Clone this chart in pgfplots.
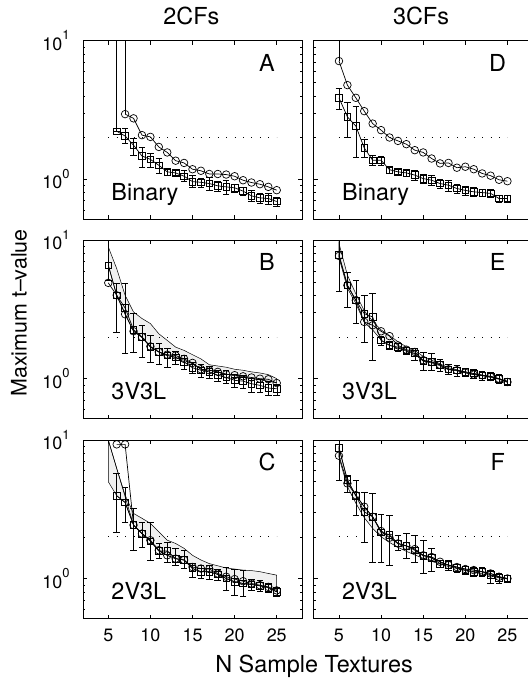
\documentclass[border=0pt]{standalone}
\usepackage{fontspec}
\setmainfont{TeX Gyre Heros}
\usepackage{pgfplots}
\pgfplotsset{compat=1.18}
\usepackage{pgfplotstable}

\pgfplotstableread{
n c s sp sm
6 nan 2.22 0 0
7 2.95 2.05 0.27 0.24
8 2.75 1.76 0.21 0.27
9 2.08 1.47 0.24 0.24
10 2.02 1.39 0.14 0.16
11 1.71 1.26 0.15 0.15
12 1.56 1.13 0.06 0.06
13 1.36 1.11 0.05 0.05
14 1.31 1.05 0.11 0.09
15 1.18 0.96 0.11 0.08
16 1.15 0.95 0.07 0.07
17 1.09 0.93 0.10 0.10
18 1.09 0.895 0.07 0.07
19 1.08 0.88 0.10 0.10
20 1.05 0.866 0.06 0.06
21 0.983 0.82 0.06 0.06
22 0.946 0.758 0.07 0.07
23 0.92 0.733 0.06 0.06
24 0.88 0.725 0.07 0.07
25 0.833 0.69 0.05 0.05
}\dataA

\pgfplotstableread{
n c s sp sm
5 7.13 3.87 0.65 0.68
6 4.78 2.82 0.80 0.80
7 3.87 2.42 0.95 0.97
8 3.10 1.68 0.25 0.23
9 2.52 1.37 0.12 0.11
10 2.26 1.37 0.10 0.10
11 2.00 1.17 0.06 0.06
12 1.89 1.13 0.05 0.05
13 1.79 1.11 0.06 0.06
14 1.62 1.07 0.10 0.08
15 1.56 1.01 0.07 0.07
16 1.41 0.983 0.08 0.08
17 1.30 0.93 0.07 0.07
18 1.31 0.905 0.08 0.08
19 1.21 0.856 0.07 0.07
20 1.23 0.83 0.06 0.06
21 1.18 0.81 0.06 0.06
22 1.10 0.80 0.05 0.05
23 1.06 0.79 0.05 0.05
24 0.99 0.725 0.04 0.04
25 0.967 0.725 0.04 0.04
}\dataD

\pgfplotstableread{
n c s sp sm
5 4.92 6.6 3.5 1.5
6 4.0 4.0 0.86 1.82
7 2.92 3.24 1.62 1.72
8 2.20 2.26 0.69 0.70
9 2.0 2.0 0.43 0.57
10 1.71 1.69 0.37 0.37
11 1.56 1.56 0.23 0.28
12 1.49 1.47 0.18 0.26
13 1.47 1.43 0.15 0.15
14 1.39 1.32 0.15 0.14
15 1.30 1.20 0.12 0.11
16 1.17 1.15 0.12 0.12
17 1.15 1.12 0.12 0.12
18 1.12 1.06 0.10 0.10
19 1.075 1.02 0.13 0.10
20 1.06 0.973 0.10 0.10
21 1.04 0.96 0.10 0.10
22 1.02 0.92 0.08 0.12
23 1.0 0.895 0.10 0.10
24 0.99 0.856 0.10 0.10
25 0.93 0.846 0.07 0.09
}\dataB

\pgfplotstableread{
n c s sp sm
6 9.3 3.96 1.78 1.81
7 9.3 3.54 1.06 0.97
8 2.43 2.43 0.78 0.83
9 2.11 2.11 0.46 0.42
10 1.89 1.86 0.71 0.50
11 1.60 1.58 0.21 0.19
12 1.47 1.58 0.26 0.26
13 1.39 1.39 0.26 0.14
14 1.36 1.36 0.24 0.18
15 1.21 1.18 0.10 0.15
16 1.18 1.12 0.12 0.12
17 1.17 1.12 0.13 0.13
18 1.087 1.07 0.10 0.10
19 1.03 1.0 0.21 0.18
20 0.99 0.946 0.23 0.19
21 0.956 0.92 0.23 0.18
22 0.92 0.905 0.08 0.08
23 0.895 0.885 0.08 0.08
24 0.87 0.86 0.07 0.07
25 0.82 0.80 0.06 0.06
}\dataC

\pgfplotstableread{
n c s sp sm
5 7.7 7.87 2.2 3.6
6 4.73 4.73 1.17 1.43
7 3.68 3.68 1.46 1.18
8 2.57 2.95 1.05 1.11
9 2.43 2.79 1.32 1.42
10 2.20 1.89 0.15 0.15
11 2.03 1.74 0.12 0.12
12 1.74 1.69 0.10 0.10
13 1.62 1.60 0.10 0.10
14 1.56 1.52 0.13 0.16
15 1.36 1.34 0.22 0.19
16 1.32 1.32 0.20 0.17
17 1.26 1.26 0.12 0.12
18 1.17 1.17 0.10 0.10
19 1.15 1.15 0.10 0.10
20 1.105 1.12 0.08 0.08
21 1.07 1.09 0.08 0.08
22 1.06 1.06 0.08 0.08
23 1.03 1.04 0.07 0.07
24 1.0 1.0 0.07 0.07
25 0.946 0.956 0.06 0.06
}\dataE

\pgfplotstableread{
n c s sp sm
5 7.7 8.8 1.2 3.66
6 4.86 5.14 0.44 0.91
7 4.0 3.96 1.18 1.09
8 3.30 3.03 1.2 1.19
9 2.79 2.79 1.33 1.47
10 2.20 2.15 0.75 0.83
11 1.97 2.06 0.81 0.81
12 1.79 1.79 0.27 0.19
13 1.72 1.72 0.39 0.33
14 1.63 1.60 0.46 0.28
15 1.47 1.46 0.43 0.37
16 1.43 1.41 0.24 0.29
17 1.32 1.28 0.08 0.08
18 1.25 1.25 0.10 0.10
19 1.21 1.19 0.08 0.08
20 1.17 1.15 0.08 0.08
21 1.15 1.12 0.08 0.08
22 1.12 1.12 0.08 0.08
23 1.087 1.06 0.09 0.14
24 1.03 1.01 0.08 0.08
25 1.0 1.0 0.06 0.06
}\dataF

\newcommand{\tickfont}{\fontsize{18}{18}\selectfont}
\newcommand{\bigfont}{\fontsize{23.5}{23.5}\selectfont}
\newcommand{\tsup}[1]{\raisebox{10.5bp}{\fontsize{13}{13}\selectfont #1}}

\pgfplotsset{
 every axis/.append style={
  scale only axis, width=219bp, height=178.5bp,
  xmin=2, xmax=28, ymin=0.514, ymax=10,
  xtick={5,10,15,20,25}, ytick={1,10},
  minor ytick={0.6,0.7,0.8,0.9,2,3,4,5,6,7,8,9},
  tick align=inside, major tick length=4bp, minor tick length=2.5bp,
  axis line style={line width=0.8bp},
  tick style={black, line width=0.6bp},
  anchor=north west,
 },
}

\newcommand{\pletter}[1]{\node[font=\bigfont] at (rel axis cs:0.84,0.877) {#1};}
\newcommand{\plabel}[1]{\node[font=\bigfont, anchor=base west] at (rel axis cs:0.114,0.106) {#1};}

\begin{document}
\begin{tikzpicture}
\useasboundingbox (0,0) rectangle (528bp,-679bp);
\clip (0,0) rectangle (528bp,-679bp);

% Panel A
\begin{semilogyaxis}[at={(83bp,-40.7bp)}, xticklabels={}, yticklabels={10\tsup{0},10\tsup{1}}, yticklabel style={font=\tickfont, xshift=-10bp}]
\addplot[black, line width=0.9bp, dash pattern=on 0.9bp off 7.523bp] coordinates {(5,2) (25,2)};
\addplot[black, line width=0.7bp] coordinates {(6,2.22) (6,30)};
\addplot[black, line width=0.7bp] coordinates {(7,2.95) (7,30)};
\addplot[black, line width=0.7bp, mark=square, mark size=3.3bp, error bars/y dir=both, error bars/y explicit] table[x=n, y=s, y error plus=sp, y error minus=sm] {\dataA};
\addplot[black, line width=0.7bp, mark=o, mark size=3.8bp] table[x=n, y=c] {\dataA};
\pletter{A}\plabel{Binary}
\end{semilogyaxis}

% Panel D
\begin{semilogyaxis}[at={(313.7bp,-40.7bp)}, xticklabels={}, yticklabels={}]
\addplot[black, line width=0.9bp, dash pattern=on 0.9bp off 7.523bp] coordinates {(5,2) (25,2)};
\addplot[black, line width=0.7bp] coordinates {(5,7.13) (5,30)};
\addplot[black, line width=0.7bp, mark=square, mark size=3.3bp, error bars/y dir=both, error bars/y explicit] table[x=n, y=s, y error plus=sp, y error minus=sm] {\dataD};
\addplot[black, line width=0.7bp, mark=o, mark size=3.8bp] table[x=n, y=c] {\dataD};
\pletter{D}\plabel{Binary}
\end{semilogyaxis}

% Panel B
\begin{semilogyaxis}[at={(83bp,-240.2bp)}, xticklabels={}, yticklabels={10\tsup{0},10\tsup{1}}, yticklabel style={font=\tickfont, xshift=-10bp}]
\addplot[fill=gray!12, draw=black, line width=0.5bp] coordinates {(5,8.95)(6,6.24)(7,4.0)(8,3.03)(9,2.72)(10,2.50)(11,2.11)(12,1.89)(13,1.69)(14,1.60)(15,1.49)(16,1.39)(17,1.26)(18,1.235)(19,1.21)(20,1.17)(21,1.15)(22,1.12)(23,1.10)(24,1.07)(25,1.0)
 (25,0.93)(24,0.96)(23,0.98)(22,1.0)(21,1.03)(20,1.05)(19,1.08)(18,1.12)(17,1.15)(16,1.17)(15,1.28)(14,1.36)(13,1.42)(12,1.47)(11,1.56)(10,1.7)(9,1.98)(8,2.2)(7,2.95)(6,4.0)(5,6.6)} -- cycle;
\addplot[black, line width=0.9bp, dash pattern=on 0.9bp off 7.523bp] coordinates {(5,2) (25,2)};
\addplot[black, line width=0.7bp, mark=square, mark size=3.3bp, error bars/y dir=both, error bars/y explicit] table[x=n, y=s, y error plus=sp, y error minus=sm] {\dataB};
\addplot[black, line width=0.7bp, mark=o, mark size=3.8bp] table[x=n, y=c] {\dataB};
\pletter{B}\plabel{3V3L}
\end{semilogyaxis}

% Panel E
\begin{semilogyaxis}[at={(313.7bp,-240.2bp)}, xticklabels={}, yticklabels={}]
\addplot[fill=gray!12, draw=black, line width=0.5bp] coordinates {(5,9.5)(6,5.6)(7,4.1)(8,3.1)(9,2.6)(10,2.25)(11,2.05)(12,1.85)(13,1.7)(14,1.6)(15,1.45)(16,1.36)(17,1.28)(18,1.2)(19,1.16)(20,1.12)(21,1.09)(22,1.06)(23,1.04)(24,1.0)(25,0.96)
 (25,0.94)(24,0.99)(23,1.02)(22,1.05)(21,1.07)(20,1.1)(19,1.14)(18,1.16)(17,1.24)(16,1.3)(15,1.34)(14,1.5)(13,1.58)(12,1.66)(11,1.74)(10,1.9)(9,2.25)(8,2.55)(7,3.5)(6,4.5)(5,7.5)} -- cycle;
\addplot[black, line width=0.9bp, dash pattern=on 0.9bp off 7.523bp] coordinates {(5,2) (25,2)};
\addplot[black, line width=0.7bp, mark=square, mark size=3.3bp, error bars/y dir=both, error bars/y explicit] table[x=n, y=s, y error plus=sp, y error minus=sm] {\dataE};
\addplot[black, line width=0.7bp, mark=o, mark size=3.8bp] table[x=n, y=c] {\dataE};
\pletter{E}\plabel{3V3L}
\end{semilogyaxis}

% Panel C
\begin{semilogyaxis}[at={(83bp,-440bp)}, xticklabels={5,10,15,20,25}, xticklabel style={font=\tickfont, yshift=-7bp}, yticklabels={10\tsup{0},10\tsup{1}}, yticklabel style={font=\tickfont, xshift=-10bp}]
\addplot[fill=gray!12, draw=black, line width=0.5bp] coordinates {(5,10)(6,6.24)(7,4.0)(8,2.95)(9,2.72)(10,2.50)(11,2.17)(12,1.89)(13,1.79)(14,1.65)(15,1.47)(16,1.36)(17,1.28)(18,1.235)(19,1.19)(20,1.17)(21,1.15)(22,1.14)(23,1.12)(24,1.087)(25,1.057)
 (25,0.80)(24,0.86)(23,0.885)(22,0.905)(21,0.92)(20,0.95)(19,1.0)(18,1.07)(17,1.12)(16,1.12)(15,1.18)(14,1.36)(13,1.39)(12,1.47)(11,1.58)(10,1.86)(9,2.11)(8,2.43)(7,3.54)(6,3.96)(5,5.0)} -- cycle;
\addplot[black, line width=0.5bp] coordinates {(4.9,10.5) (8,2.43)};
\addplot[black, line width=0.9bp, dash pattern=on 0.9bp off 7.523bp] coordinates {(5,2) (25,2)};
\addplot[black, line width=0.7bp, mark=square, mark size=3.3bp, error bars/y dir=both, error bars/y explicit] table[x=n, y=s, y error plus=sp, y error minus=sm] {\dataC};
\addplot[black, line width=0.7bp, mark=o, mark size=3.8bp] table[x=n, y=c] {\dataC};
\pletter{C}\plabel{2V3L}
\end{semilogyaxis}

% Panel F
\begin{semilogyaxis}[at={(313.7bp,-440bp)}, xticklabels={5,10,15,20,25}, xticklabel style={font=\tickfont, yshift=-7bp}, yticklabels={}]
\addplot[fill=gray!12, draw=black, line width=0.5bp] coordinates {(5,8.8)(6,5.14)(7,4.0)(8,3.3)(9,2.79)(10,2.2)(11,2.06)(12,1.79)(13,1.72)(14,1.63)(15,1.47)(16,1.43)(17,1.32)(18,1.25)(19,1.21)(20,1.17)(21,1.15)(22,1.12)(23,1.087)(24,1.03)(25,1.0)
 (25,0.99)(24,1.02)(23,1.05)(22,1.08)(21,1.11)(20,1.14)(19,1.18)(18,1.22)(17,1.27)(16,1.33)(15,1.4)(14,1.48)(13,1.57)(12,1.68)(11,1.82)(10,2.0)(9,2.3)(8,2.75)(7,3.5)(6,4.6)(5,7.5)} -- cycle;
\addplot[black, line width=0.9bp, dash pattern=on 0.9bp off 7.523bp] coordinates {(5,2) (25,2)};
\addplot[black, line width=0.7bp, mark=square, mark size=3.3bp, error bars/y dir=both, error bars/y explicit] table[x=n, y=s, y error plus=sp, y error minus=sm] {\dataF};
\addplot[black, line width=0.7bp, mark=o, mark size=3.8bp] table[x=n, y=c] {\dataF};
\pletter{F}\plabel{2V3L}
\end{semilogyaxis}

\node[font=\bigfont] at (191.3bp,-16.2bp) {2CFs};
\node[font=\bigfont] at (421bp,-16.2bp) {3CFs};
\node[font=\bigfont, anchor=base] at (314bp,-672bp) {N Sample Textures};
\node[font=\fontsize{21.5}{21.5}\selectfont, rotate=90, anchor=base] at (26.5bp,-313bp) {Maximum t--value};
\end{tikzpicture}
\end{document}
